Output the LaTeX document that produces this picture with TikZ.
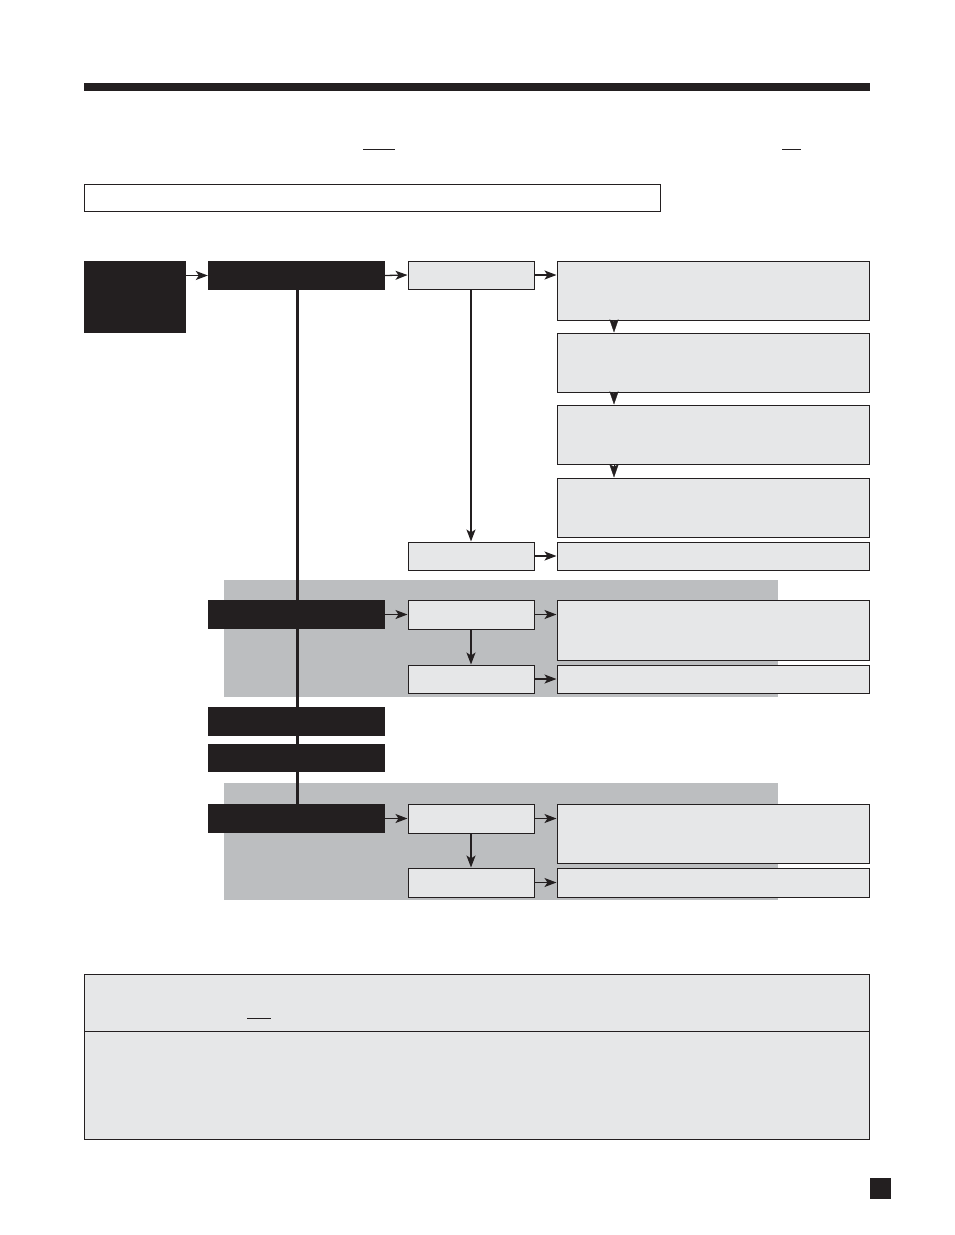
\documentclass[tikz,border=0pt]{standalone}
\usetikzlibrary{arrows.meta,fit,calc}
\definecolor{ink}{HTML}{231F20}
\definecolor{lightfill}{HTML}{E6E7E8}
\definecolor{bandfill}{HTML}{BCBEC0}
\tikzset{
  lbox/.style={draw=ink, fill=lightfill, line width=1pt, inner sep=0pt},
  wbox/.style={draw=ink, fill=white, line width=1pt, inner sep=0pt},
  bbox/.style={fill=ink, inner sep=0pt},
  band/.style={fill=bandfill, inner sep=0pt},
  arr/.style={draw=ink, line width=1.3pt, -{Stealth[length=12pt,width=9pt,inset=3pt]}},
  tiponly/.style={draw=ink, line width=0.4pt, -{Stealth[length=13pt,width=9pt,inset=2pt]}},
  trunk/.style={draw=ink, line width=3pt},
  thinline/.style={draw=ink, line width=1pt}
}
\begin{document}
\begin{tikzpicture}[x=1pt,y=-1pt]
\useasboundingbox (0,0) rectangle (954,1235);
% top bar
\node[bbox, fit={(84,83)(870,91)}] (topbar) {};
% underlines
\coordinate (u1a) at (363,149); \coordinate (u1b) at (395,149);
\coordinate (u2a) at (782,149); \coordinate (u2b) at (801,149);
\draw[thinline] (u1a) -- (u1b);
\draw[thinline] (u2a) -- (u2b);
% header box
\node[wbox, fit={(84,184)(660,211)}] (hdr) {};
% grey bands
\node[band, fit={(224,580)(778,697)}] (band1) {};
\node[band, fit={(224,783)(778,900)}] (band2) {};
% black boxes
\node[bbox, fit={(84,261)(186,333)}] (start) {};
\node[bbox, fit={(208,261)(385,290)}] (k1) {};
\node[bbox, fit={(208,600)(385,629)}] (k2) {};
\node[bbox, fit={(208,707)(385,736)}] (k3) {};
\node[bbox, fit={(208,744)(385,772)}] (k4) {};
\node[bbox, fit={(208,804)(385,833)}] (k5) {};
% trunk
\coordinate (tx) at (297,0);
\draw[trunk] (k1.south -| tx) -- (k5.north -| tx);
% middle boxes
\node[lbox, fit={(408,261)(534,289)}] (a1) {};
\node[lbox, fit={(408,542)(534,570)}] (a2) {};
\node[lbox, fit={(408,600)(534,629)}] (b1) {};
\node[lbox, fit={(408,665)(534,693)}] (b2) {};
\node[lbox, fit={(408,804)(534,833)}] (c1) {};
\node[lbox, fit={(408,868)(534,897)}] (c2) {};
% right boxes
\node[lbox, fit={(557,261)(869,320)}] (r1) {};
\node[lbox, fit={(557,333)(869,392)}] (r2) {};
\node[lbox, fit={(557,405)(869,464)}] (r3) {};
\node[lbox, fit={(557,478)(869,537)}] (r4) {};
\node[lbox, fit={(557,542)(869,570)}] (r5) {};
\node[lbox, fit={(557,600)(869,660)}] (r6) {};
\node[lbox, fit={(557,665)(869,693)}] (r7) {};
\node[lbox, fit={(557,804)(869,863)}] (r8) {};
\node[lbox, fit={(557,868)(869,897)}] (r9) {};
% horizontal arrows
\draw[arr] (start.east |- k1.west) -- (k1.west);
\draw[arr] (k1.east) -- (a1.west);
\draw[arr] (a1.east) -- (a1.east -| r1.west);
\draw[arr] (a2.east) -- (r5.west);
\draw[arr] (k2.east) -- (b1.west);
\draw[arr] (b1.east) -- (b1.east -| r6.west);
\draw[arr] (b2.east) -- (r7.west);
\draw[arr] (k5.east) -- (c1.west);
\draw[arr] (c1.east) -- (c1.east -| r8.west);
\draw[arr] (c2.east) -- (r9.west);
% vertical arrows
\draw[arr, line width=1.8pt] (a1.south) -- (a2.north);
\draw[arr, line width=1.8pt] (b1.south) -- (b2.north);
\draw[arr, line width=1.8pt] (c1.south) -- (c2.north);
% tip-only arrows between right boxes
\coordinate (ax) at (614,0);
\draw[tiponly] (r1.south -| ax) -- (r2.north -| ax);
\draw[tiponly] (r2.south -| ax) -- (r3.north -| ax);
\draw[tiponly] (r3.south -| ax) -- (r4.north -| ax);
% bottom box
\node[lbox, fit={(84,974)(869,1139)}] (note) {};
\coordinate (dl) at (84,1031); \coordinate (dr) at (869,1031);
\draw[thinline] (dl) -- (dr);
\coordinate (u3a) at (247,1018); \coordinate (u3b) at (271,1018);
\draw[thinline] (u3a) -- (u3b);
% page marker
\node[bbox, fit={(870,1178)(891,1199)}] (pmark) {};
\end{tikzpicture}
\end{document}
